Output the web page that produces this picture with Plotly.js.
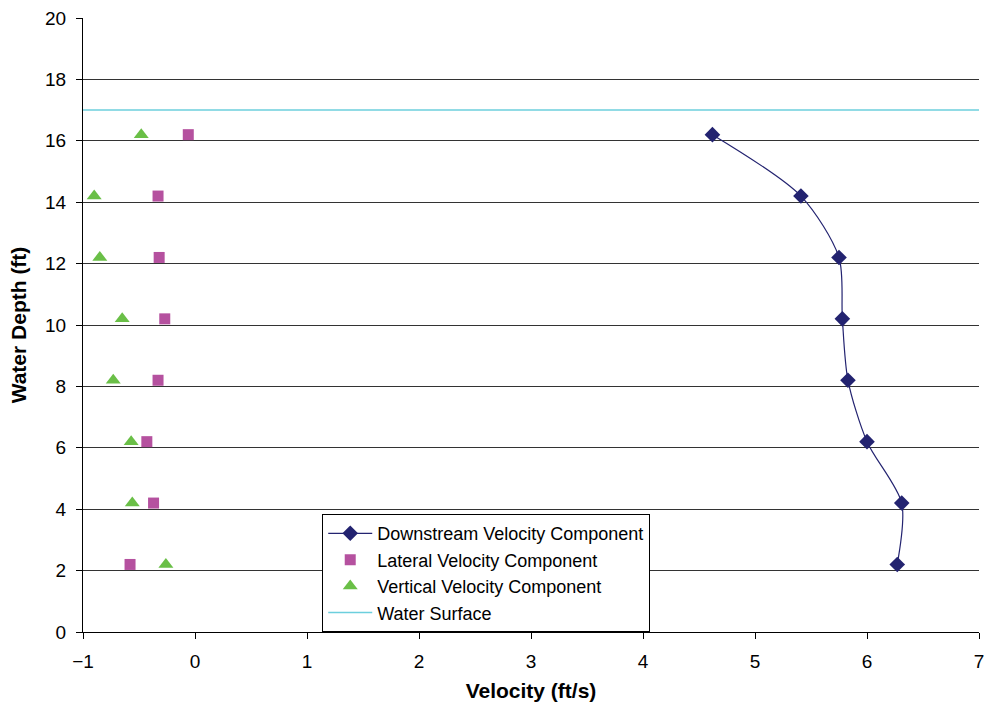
<!DOCTYPE html>
<html>
<head>
<meta charset="utf-8">
<script src="https://cdn.plot.ly/plotly-3.0.1.min.js"></script>
<style>html,body{margin:0;padding:0;background:#fff;}#chart{width:985px;height:711px;}</style>
</head>
<body>
<div id="chart"></div>
<script>
const depths = [2.2, 4.2, 6.2, 8.2, 10.2, 12.2, 14.2, 16.2];
const downstream = [6.27, 6.31, 6.0, 5.83, 5.78, 5.75, 5.41, 4.62];
const lateral = [-0.58, -0.37, -0.43, -0.33, -0.27, -0.32, -0.33, -0.06];
const vertical = [-0.26, -0.56, -0.57, -0.73, -0.65, -0.85, -0.9, -0.48];
const surfaceX = [-1, 7];
const surfaceY = [17, 17];

const traces = [
  {x: downstream, y: depths, name: 'Downstream Velocity Component', mode: 'lines+markers',
   line: {color: '#232370', width: 1.2, shape: 'spline', smoothing: 0.8},
   marker: {symbol: 'diamond', size: 12, color: '#232370'}},
  {x: lateral, y: depths, name: 'Lateral Velocity Component', mode: 'markers',
   marker: {symbol: 'square', size: 11, color: '#B5519F'}},
  {x: vertical, y: depths, name: 'Vertical Velocity Component', mode: 'markers',
   marker: {symbol: 'triangle-up', size: 13, color: '#6ABF47'}},
  {x: surfaceX, y: surfaceY, name: 'Water Surface', mode: 'lines',
   line: {color: '#6CCFDD', width: 1.5}}
];

const layout = {
  width: 985, height: 711,
  margin: {l: 83, r: 6, t: 18, b: 79},
  paper_bgcolor: '#fff', plot_bgcolor: '#fff',
  font: {family: '"Liberation Sans", Arial, sans-serif', size: 19, color: '#000'},
  showlegend: true,
  legend: {x: 0.267, y: 0.192, xanchor: 'left', yanchor: 'top',
    bgcolor: '#fff', bordercolor: '#000', borderwidth: 1, itemwidth: 44,
    font: {size: 18}, tracegroupgap: 0},
  xaxis: {range: [-1, 7], dtick: 1, tick0: -1, showgrid: false, zeroline: false,
    showline: true, linecolor: '#000', linewidth: 1, ticks: 'outside', ticklen: 6, tickcolor: '#000',
    ticklabeloverflow: 'allow', ticklabelstandoff: 6,
    title: {text: '<b>Velocity (ft/s)</b>', font: {size: 21}, standoff: 12},
    tickfont: {size: 19}},
  yaxis: {range: [0, 20], dtick: 2, showgrid: true, gridcolor: '#333', gridwidth: 1, zeroline: false,
    showline: true, linecolor: '#000', linewidth: 1, ticks: 'outside', ticklen: 6, tickcolor: '#000',
    ticklabeloverflow: 'allow', ticklabelstandoff: 6,
    title: {text: '<b>Water Depth (ft)</b>', font: {size: 21}, standoff: 12},
    tickfont: {size: 19}}
};

Plotly.newPlot('chart', traces, layout, {displayModeBar: false, staticPlot: true});
</script>
</body>
</html>
